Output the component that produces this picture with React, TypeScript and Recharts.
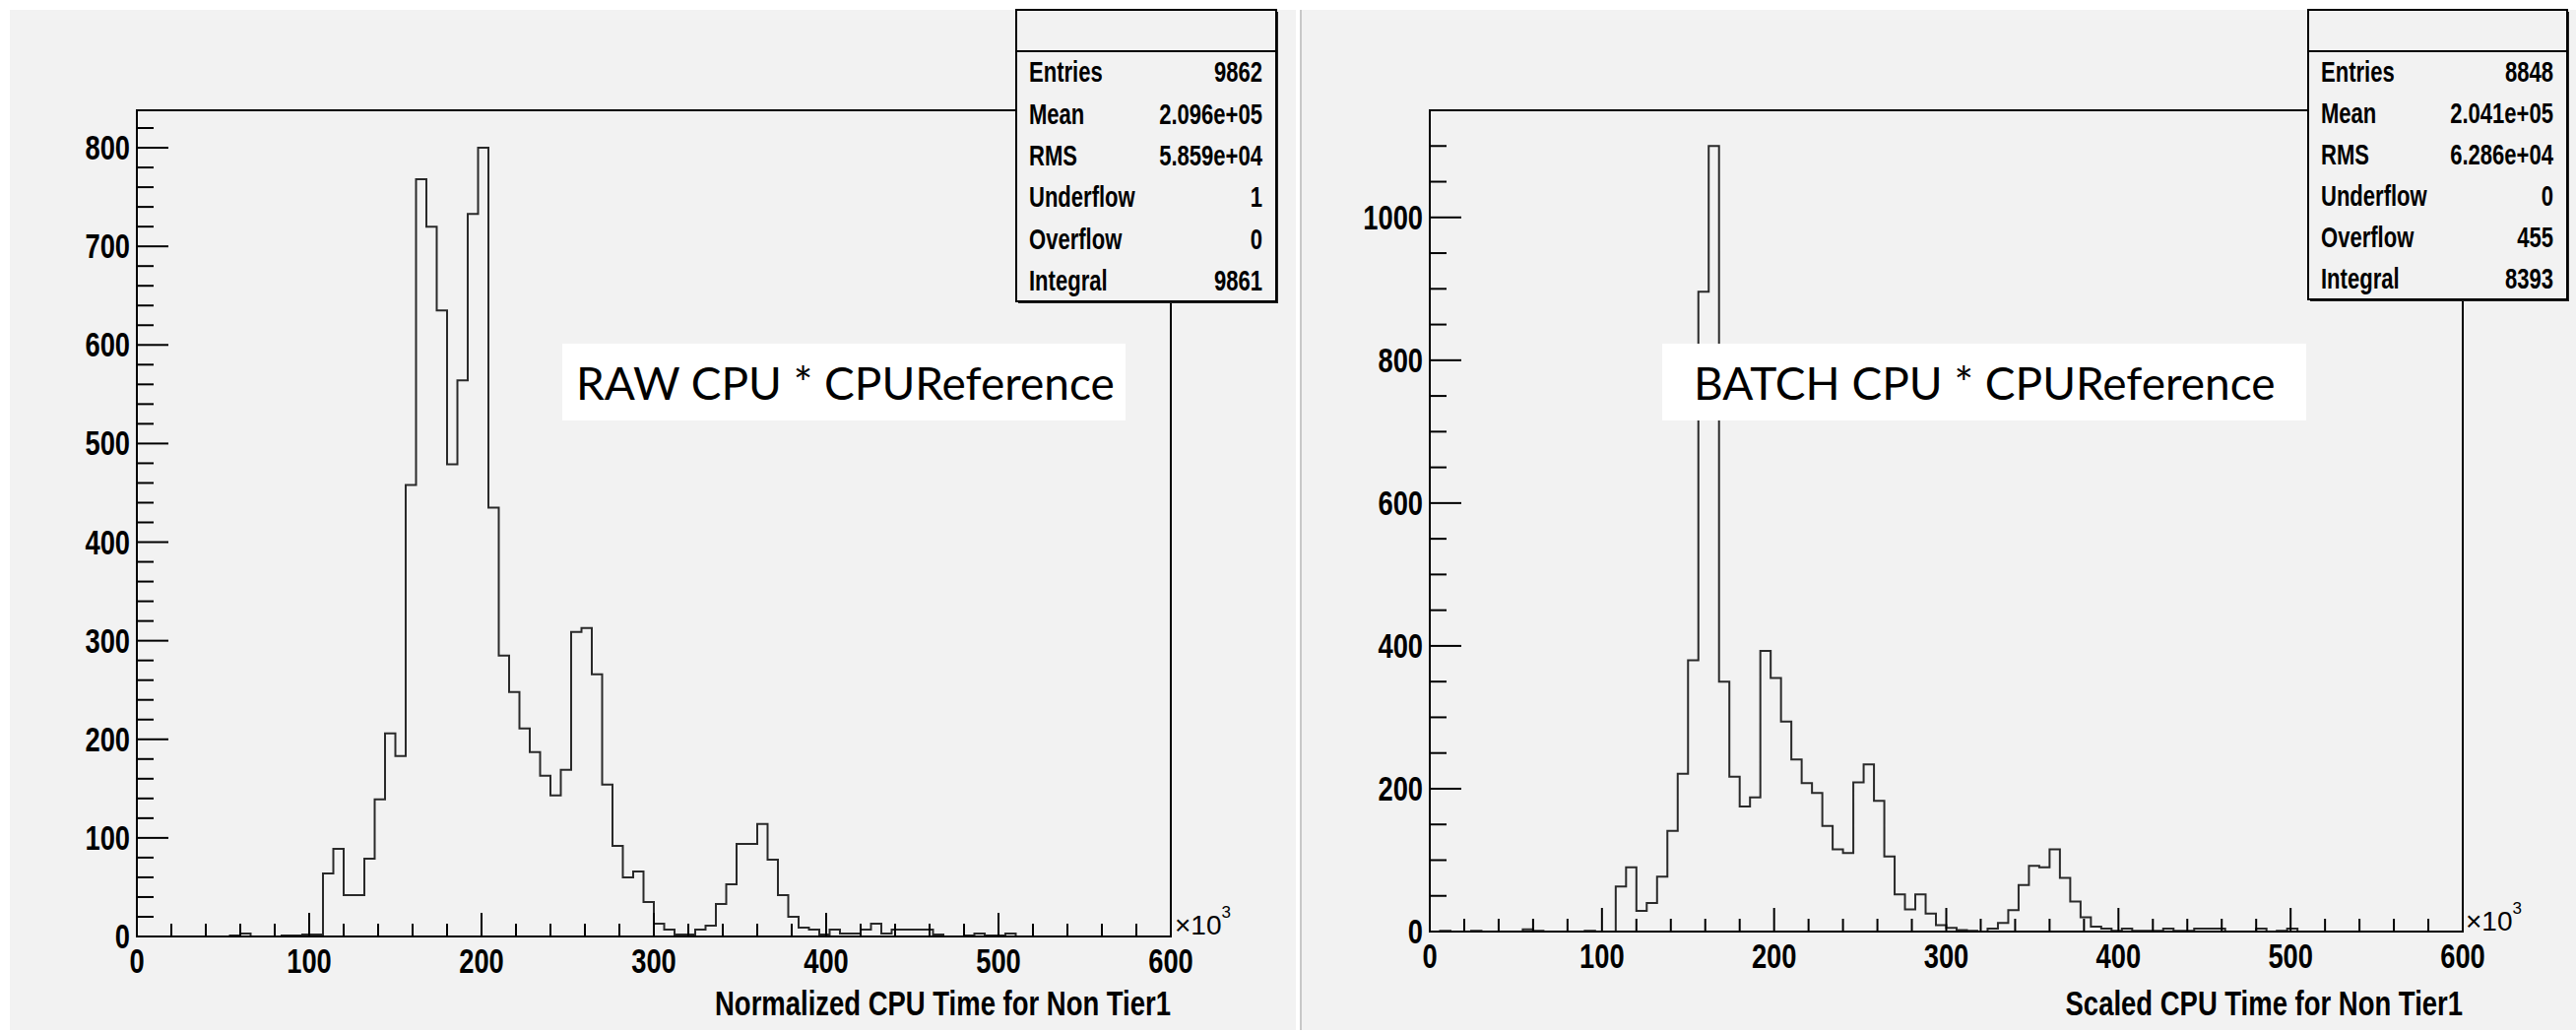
import React from "react";
import { LineChart, Line, XAxis, YAxis, ReferenceArea } from "recharts";

// histogram binning: 100 bins of 6 (x10^3) from 0 to 600
const BIN_WIDTH = 6;
const X_MAX = 600;

// RAW CPU * CPUReference, counts per bin
const rawCounts = [
  0, 0, 0, 0, 0, 0, 0, 0, 0, 1,
  3, 0, 0, 0, 1, 1, 2, 2, 64, 89,
  42, 42, 79, 139, 206, 183, 458, 768, 720, 635,
  479, 564, 733, 800, 435, 285, 248, 211, 187, 163,
  143, 169, 309, 313, 266, 154, 92, 60, 66, 35,
  13, 7, 2, 2, 7, 11, 33, 53, 94, 94,
  114, 78, 42, 20, 9, 7, 2, 7, 3, 3,
  7, 13, 3, 7, 7, 7, 7, 2, 0, 0,
  1, 3, 1, 1, 3, 0, 0, 0, 0, 0,
  0, 0, 0, 0, 0, 0, 0, 0, 0, 0,
];

// BATCH CPU * CPUReference, counts per bin
const batchCounts = [
  0, 1, 0, 0, 1, 0, 0, 0, 0, 3,
  1, 0, 0, 0, 0, 1, 0, 0, 63, 90,
  29, 40, 77, 141, 221, 380, 896, 1100, 350, 217,
  175, 188, 393, 355, 294, 241, 208, 194, 148, 115,
  110, 209, 234, 183, 105, 52, 31, 52, 25, 9,
  5, 2, 1, 0, 4, 12, 30, 65, 92, 90,
  115, 75, 42, 20, 7, 4, 1, 4, 1, 1,
  1, 4, 1, 1, 4, 4, 4, 0, 0, 0,
  4, 0, 1, 4, 0, 0, 0, 0, 0, 0,
  0, 0, 0, 0, 0, 0, 0, 0, 0, 0,
];

const rawStats = [
  ["Entries", "9862"],
  ["Mean", "2.096e+05"],
  ["RMS", "5.859e+04"],
  ["Underflow", "1"],
  ["Overflow", "0"],
  ["Integral", "9861"],
];

const batchStats = [
  ["Entries", "8848"],
  ["Mean", "2.041e+05"],
  ["RMS", "6.286e+04"],
  ["Underflow", "0"],
  ["Overflow", "455"],
  ["Integral", "8393"],
];

const SANS = "'Liberation Sans', Arial, sans-serif";
const LABEL_FONT = "Lato, 'Open Sans', sans-serif";
const PANEL_BG = "#f2f2f2";

const range = (max: number, step: number) =>
  Array.from({ length: Math.floor(max / step) + 1 }, (_, i) => i * step);

const toBins = (counts: number[]) => [
  ...counts.map((c, i) => ({ x: i * BIN_WIDTH, count: c })),
  { x: counts.length * BIN_WIDTH, count: 0 },
];

// bold condensed text (ROOT's helvetica bold looks narrow here)
function NText({
  x,
  y,
  size,
  anchor = "start",
  sx = 0.78,
  children,
}: {
  x: number;
  y: number;
  size: number;
  anchor?: "start" | "middle" | "end";
  sx?: number;
  children: React.ReactNode;
}) {
  return (
    <text
      transform={`translate(${x},${y}) scale(${sx},1)`}
      textAnchor={anchor}
      fontFamily={SANS}
      fontWeight="bold"
      fontSize={size}
      fill="#000"
    >
      {children}
    </text>
  );
}

// ROOT style ticks: drawn inward, labels only on major ticks
const makeXTick = (labelStep: number) => (props: any) => {
  const { x, y, payload } = props;
  const major = payload.value % labelStep === 0;
  return (
    <g>
      <line x1={x} x2={x} y1={y} y2={y - (major ? 24 : 13)} stroke="#000" strokeWidth={2} />
      {major && (
        <NText x={x} y={y + 37} size={35} anchor="middle">
          {payload.value}
        </NText>
      )}
    </g>
  );
};

const makeYTick = (labelStep: number) => (props: any) => {
  const { x, y, payload } = props;
  const major = payload.value % labelStep === 0;
  return (
    <g>
      <line x1={x} x2={x + (major ? 32 : 17)} y1={y} y2={y} stroke="#000" strokeWidth={2} />
      {major && (
        <NText x={x - 7} y={y + 12} size={35} anchor="end">
          {payload.value}
        </NText>
      )}
    </g>
  );
};

interface HistProps {
  counts: number[];
  left: number;
  width: number;
  margin: { top: number; right: number; bottom: number; left: number };
  yMax: number;
  yMinor: number;
  yLabelStep: number;
}

function Histogram({ counts, left, width, margin, yMax, yMinor, yLabelStep }: HistProps) {
  return (
    <div style={{ position: "absolute", left, top: 0 }}>
      <LineChart width={width} height={1048} data={toBins(counts)} margin={margin}>
        <XAxis
          dataKey="x"
          type="number"
          domain={[0, X_MAX]}
          ticks={range(X_MAX, 20)}
          interval={0}
          height={40}
          tickSize={0}
          tickMargin={0}
          tickLine={false}
          axisLine={{ stroke: "#000", strokeWidth: 2 }}
          tick={makeXTick(100)}
        />
        <YAxis
          type="number"
          domain={[0, yMax]}
          ticks={range(yMax, yMinor)}
          interval={0}
          width={60}
          tickSize={0}
          tickMargin={0}
          tickLine={false}
          axisLine={{ stroke: "#000", strokeWidth: 2 }}
          tick={makeYTick(yLabelStep)}
          allowDataOverflow
        />
        <Line
          type="stepAfter"
          dataKey="count"
          stroke="#2a2a2a"
          strokeWidth={2}
          dot={false}
          isAnimationActive={false}
        />
        <ReferenceArea x1={0} x2={X_MAX} y1={0} y2={yMax} fill="none" stroke="#000" strokeWidth={2} />
      </LineChart>
    </div>
  );
}

function StatsBox({ x, y, w, h, rows }: { x: number; y: number; w: number; h: number; rows: string[][] }) {
  const header = 42;
  const rowH = (h - header) / rows.length;
  return (
    <g>
      <rect x={x + 2} y={y + 2} width={w} height={h} fill="#222" />
      <rect x={x} y={y} width={w} height={h} fill={PANEL_BG} stroke="#000" strokeWidth={2} />
      <line x1={x} x2={x + w} y1={y + header} y2={y + header} stroke="#000" strokeWidth={2} />
      {rows.map(([k, v], i) => {
        const by = y + header + rowH * (i + 0.5) + 10;
        return (
          <g key={k}>
            <NText x={x + 13} y={by} size={29} sx={0.76}>{k}</NText>
            <NText x={x + w - 14} y={by} size={29} sx={0.76} anchor="end">{v}</NText>
          </g>
        );
      })}
    </g>
  );
}

function TimesTen({ x, y }: { x: number; y: number }) {
  return (
    <text x={x} y={y} fontFamily={SANS} fontSize={28} fill="#000">
      ×10
      <tspan dy={-17} fontSize={17}>3</tspan>
    </text>
  );
}

export default function App() {
  return (
    <div style={{ position: "relative", width: 2616, height: 1048, background: "#fff", overflow: "hidden" }}>
      <style>{`body{margin:0}`}</style>
      <div style={{ position: "absolute", left: 10, top: 10, width: 1306, height: 1036, background: PANEL_BG }} />
      <div
        style={{
          position: "absolute",
          left: 1320,
          top: 10,
          width: 1296,
          height: 1036,
          background: PANEL_BG,
          borderLeft: "2px solid #c8c8c8",
          boxSizing: "border-box",
        }}
      />

      <Histogram
        counts={rawCounts}
        left={0}
        width={1316}
        margin={{ top: 112, right: 127, bottom: 57, left: 79 }}
        yMax={838}
        yMinor={20}
        yLabelStep={100}
      />
      <Histogram
        counts={batchCounts}
        left={1320}
        width={1296}
        margin={{ top: 112, right: 115, bottom: 62, left: 72 }}
        yMax={1150}
        yMinor={50}
        yLabelStep={200}
      />

      <svg width={2616} height={1048} style={{ position: "absolute", left: 0, top: 0, pointerEvents: "none" }}>
        <StatsBox x={1032} y={10} w={264} h={296} rows={rawStats} />
        <StatsBox x={2344} y={10} w={263} h={294} rows={batchStats} />

        <rect x={571} y={349} width={572} height={78} fill="#fff" />
        <text x={585} y={406} fontFamily={LABEL_FONT} fontSize={46} fill="#000">
          RAW CPU * CPUReference
        </text>
        <rect x={1688} y={349} width={654} height={78} fill="#fff" />
        <text x={1720} y={406} fontFamily={LABEL_FONT} fontSize={46} fill="#000">
          BATCH CPU * CPUReference
        </text>

        <TimesTen x={1193} y={949} />
        <TimesTen x={2504} y={945} />

        <NText x={1189} y={1031} size={35} sx={0.785} anchor="end">
          Normalized CPU Time for Non Tier1
        </NText>
        <NText x={2501} y={1031} size={35} sx={0.785} anchor="end">
          Scaled CPU Time for Non Tier1
        </NText>
      </svg>
    </div>
  );
}
